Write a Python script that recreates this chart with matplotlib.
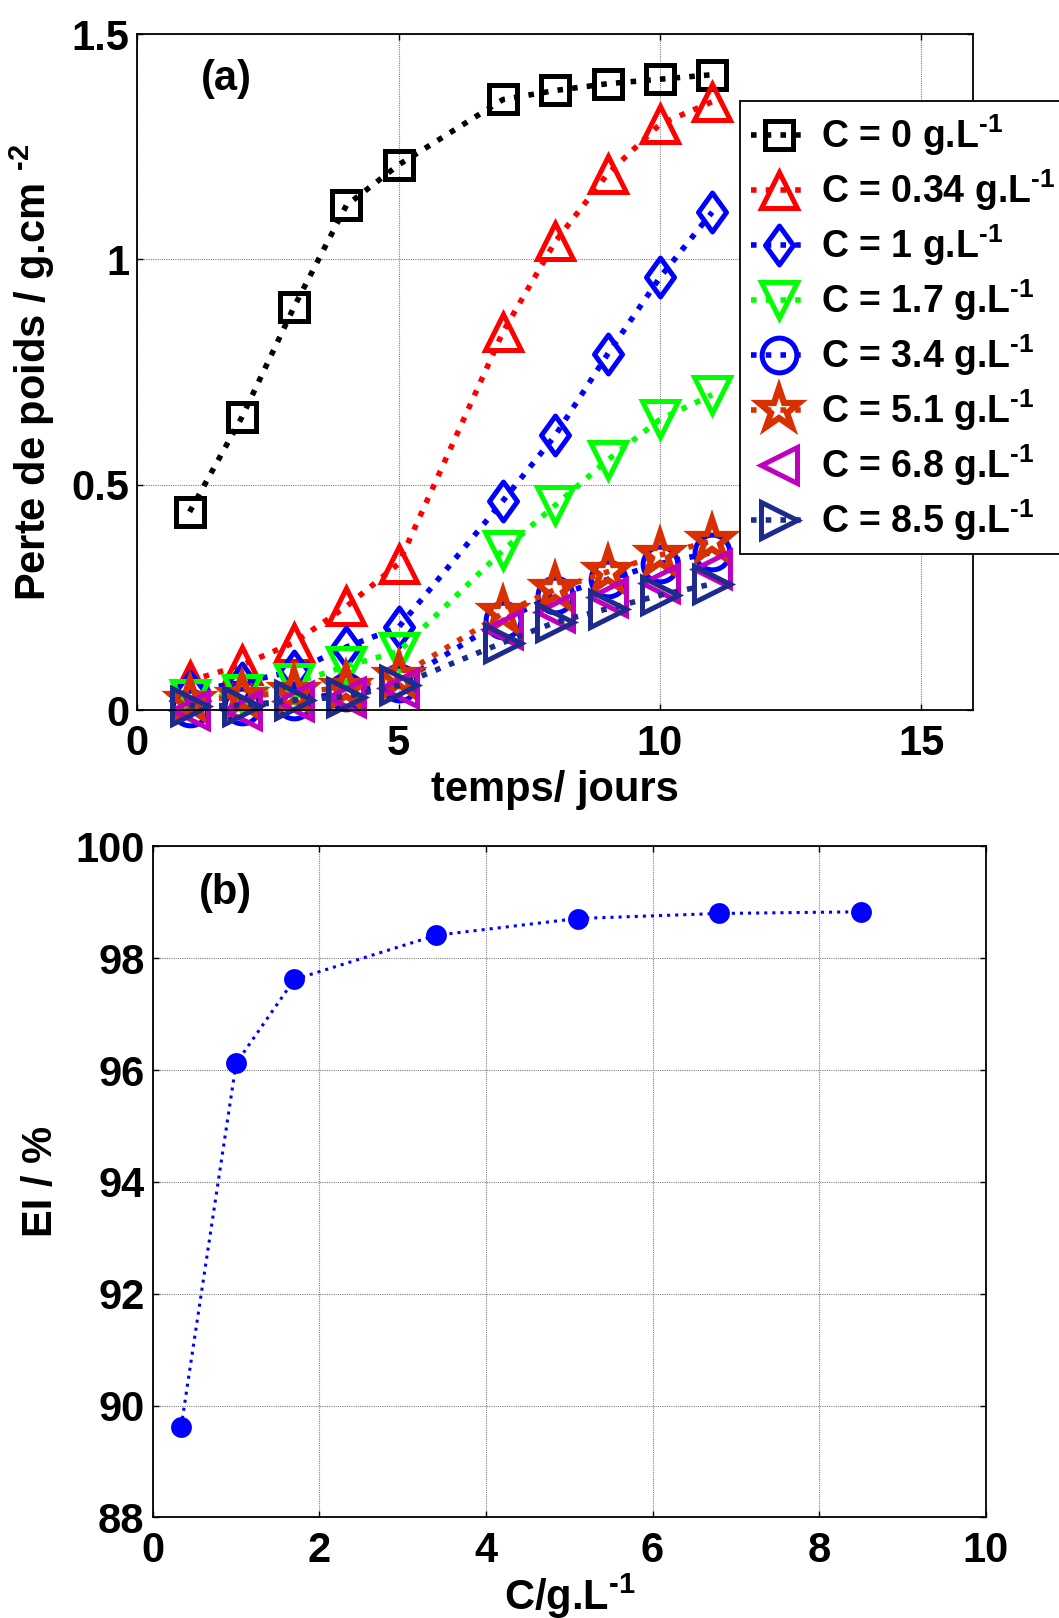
import numpy as np
import matplotlib
matplotlib.use('Agg')
import matplotlib.pyplot as plt
from matplotlib.path import Path
from matplotlib.markers import MarkerStyle

plt.rcParams['font.family'] = ['Liberation Sans', 'DejaVu Sans']
plt.rcParams['font.weight'] = 'bold'
plt.rcParams['mathtext.fontset'] = 'custom'
plt.rcParams['mathtext.rm'] = 'Liberation Sans:bold'
plt.rcParams['mathtext.bf'] = 'Liberation Sans:bold'
plt.rcParams['mathtext.default'] = 'rm'

# (a) weight loss vs time for each inhibitor concentration
days = [1, 2, 3, 4, 5, 7, 8, 9, 10, 11]
conc_labels = ['0', '0.34', '1', '1.7', '3.4', '5.1', '6.8', '8.5']
loss_c0 = [0.44, 0.65, 0.895, 1.12, 1.21, 1.355, 1.375, 1.39, 1.40, 1.41]
loss_c034 = [0.065, 0.10, 0.15, 0.23, 0.325, 0.84, 1.04, 1.19, 1.30, 1.35]
loss_c1 = [0.043, 0.061, 0.087, 0.14, 0.184, 0.465, 0.61, 0.79, 0.96, 1.105]
loss_c17 = [0.025, 0.035, 0.06, 0.098, 0.13, 0.355, 0.455, 0.555, 0.645, 0.70]
loss_c34 = [0.005, 0.01, 0.02, 0.04, 0.06, 0.20, 0.255, 0.29, 0.325, 0.35]
loss_c51 = [0.02, 0.03, 0.04, 0.05, 0.074, 0.215, 0.268, 0.307, 0.344, 0.376]
loss_c68 = [0.0, 0.0, 0.02, 0.03, 0.05, 0.18, 0.218, 0.252, 0.283, 0.313]
loss_c85 = [0.01, 0.01, 0.022, 0.03, 0.055, 0.15, 0.195, 0.225, 0.255, 0.28]

# (b) inhibition efficiency vs concentration
conc = [0.34, 1, 1.7, 3.4, 5.1, 6.8, 8.5]
efficiency = [89.62, 96.12, 97.62, 98.41, 98.71, 98.80, 98.83]

# tall matlab-like diamond
tall_diamond = Path([(0, 1), (0.72, 0), (0, -1), (-0.72, 0), (0, 1)], closed=True)

series = [loss_c0, loss_c034, loss_c1, loss_c17, loss_c34, loss_c51, loss_c68, loss_c85]
colors = ['black', '#FF0000', '#0000FF', '#00FF00', '#0000FF', '#D83000', '#BF00BF', '#1C2B8C']
markers = ['s', '^', tall_diamond, 'v', 'o', '*', '<', '>']
sizes = [20, 26, 28, 26, 25, 31, 26, 26]
edge_w = [3.6, 3.6, 3.6, 3.6, 3.6, 4.5, 3.6, 3.6]
styles = [':', ':', ':', ':', ':', ':', 'none', ':']

fig = plt.figure(figsize=(10.59, 16.18), dpi=100)
ax1 = fig.add_axes([0.1297, 0.5611, 0.7895, 0.4178])
ax2 = fig.add_axes([0.1443, 0.0622, 0.7865, 0.4147])


def style_axes(ax):
    ax.grid(True, color='0.5', linestyle=(0, (1, 1)), linewidth=0.8)
    ax.set_axisbelow(True)
    ax.tick_params(direction='in', top=True, right=True, length=4, width=1,
                   labelsize=30, pad=6)
    ax.tick_params(axis='x', pad=10)
    for s in ax.spines.values():
        s.set_linewidth(1.3)
    for lab in ax.get_xticklabels() + ax.get_yticklabels():
        lab.set_fontweight('bold')


for i, y in enumerate(series):
    mk = MarkerStyle(markers[i], joinstyle='miter')
    ax1.plot(days, y, linestyle=styles[i], linewidth=4, color=colors[i],
             marker=mk, markersize=sizes[i], markerfacecolor='none',
             markeredgewidth=edge_w[i], markeredgecolor=colors[i], clip_on=False,
             label='C = %s g.L$^{\\text{-}1}$' % conc_labels[i])

ax1.set_xlim(0, 16)
ax1.set_ylim(0, 1.5)
ax1.set_xticks([0, 5, 10, 15])
ax1.set_yticks([0, 0.5, 1, 1.5])
ax1.set_yticklabels(['0', '0.5', '1', '1.5'])
style_axes(ax1)
ax1.set_xlabel('temps/ jours', fontsize=30, fontweight='bold', labelpad=4)
ax1.set_ylabel('Perte de poids / g.cm $^{\\text{-}2}$', fontsize=30, fontweight='bold', labelpad=10)
ax1.text(1.7, 1.40, '(a)', fontsize=30, fontweight='bold', ha='center', va='center')

leg = ax1.legend(loc='upper left', bbox_to_anchor=(740 / 1059, 1 - 101 / 1618),
                 bbox_transform=fig.transFigure, borderaxespad=0, fontsize=27,
                 numpoints=1, handlelength=1.5, handletextpad=0.35,
                 labelspacing=0.25, borderpad=0.3, fancybox=False,
                 framealpha=1, edgecolor='black')
leg.get_frame().set_linewidth(1.3)

ax2.plot(conc, efficiency, linestyle=':', linewidth=2.2, color='#0000FF',
         marker='o', markersize=15, markeredgewidth=0, clip_on=False)
ax2.set_xlim(0, 10)
ax2.set_ylim(88, 100)
ax2.set_xticks(np.arange(0, 11, 2))
ax2.set_yticks(np.arange(88, 101, 2))
style_axes(ax2)
ax2.set_xlabel('C/g.L$^{\\text{-}1}$', fontsize=30, fontweight='bold', labelpad=0)
ax2.set_ylabel('EI / %', fontsize=30, fontweight='bold', labelpad=10)
ax2.text(0.87, 99.17, '(b)', fontsize=30, fontweight='bold', ha='center', va='center')

fig.savefig('out.png', dpi=100)
